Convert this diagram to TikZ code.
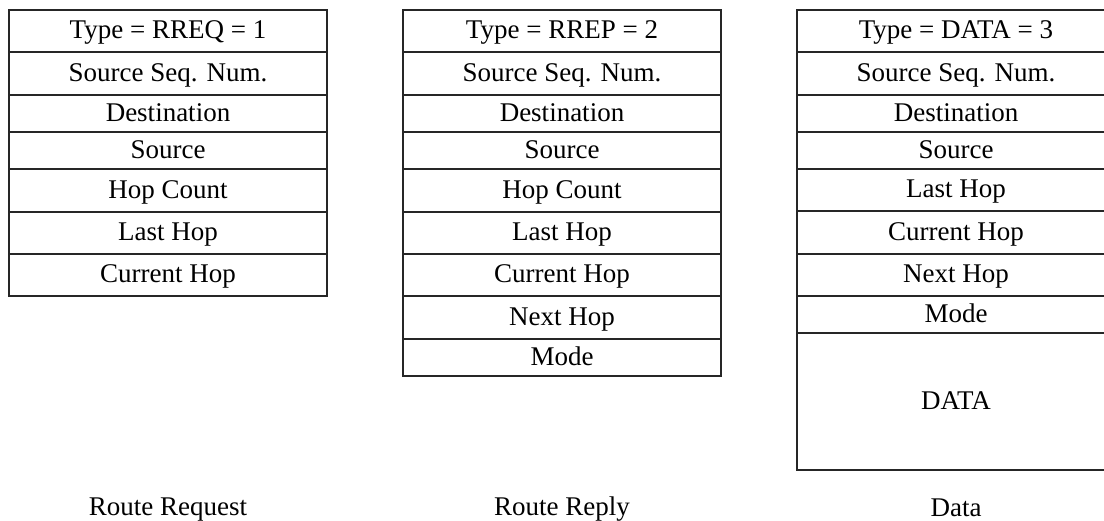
\documentclass[tikz,border=0pt]{standalone}
\usepackage{fontspec}
\setmainfont{Liberation Serif}
\begin{document}
\begin{tikzpicture}[x=1pt,y=-1pt,
  field/.style={draw=black!85,line width=1.3pt},
  lbl/.style={anchor=base,inner sep=0pt,font=\fontsize{27}{32}\selectfont},
  captionlbl/.style={anchor=base,inner sep=0pt,font=\fontsize{27}{32}\selectfont}]
\useasboundingbox (0,0) rectangle (1104,520);
\begin{scope}
\clip (0,0) rectangle (1104,520);
% Box 1: Route Request
\def\xa{9}\def\xb{327}
\foreach \ya/\yb/\t [count=\i] in {10/52/{Type = RREQ = 1},52/95/{Source Seq. Num.},95/132/Destination,132/169/Source,169/212/Hop Count,212/254/Last Hop,254/296/Current Hop}{
  \draw[field] (\xa,\ya) rectangle (\xb,\yb);
  \node[lbl] (r\i) at ({(\xa+\xb)/2},{(\ya+\yb)/2+7.5}) {\t};
}
% Box 2: Route Reply
\def\xa{403}\def\xb{721}
\foreach \ya/\yb/\t [count=\i] in {10/52/{Type = RREP = 2},52/95/{Source Seq. Num.},95/132/Destination,132/169/Source,169/212/Hop Count,212/254/Last Hop,254/296/Current Hop,296/339/Next Hop,339/376/Mode}{
  \draw[field] (\xa,\ya) rectangle (\xb,\yb);
  \node[lbl] (p\i) at ({(\xa+\xb)/2},{(\ya+\yb)/2+7.5}) {\t};
}
% Box 3: Data
\def\xa{797}\def\xb{1115}
\foreach \ya/\yb/\t [count=\i] in {10/52/{Type = DATA = 3},52/95/{Source Seq. Num.},95/132/Destination,132/169/Source,169/211/Last Hop,211/254/Current Hop,254/296/Next Hop,296/333/Mode,333/470/DATA}{
  \draw[field] (\xa,\ya) rectangle (\xb,\yb);
  \node[lbl] (d\i) at ({(\xa+\xb)/2},{(\ya+\yb)/2+7.5}) {\t};
}
\end{scope}
\node[captionlbl] (c1) at (168,515) {Route Request};
\node[captionlbl] (c2) at (562,515) {Route Reply};
\node[captionlbl] (c3) at (956,516) {Data};
\end{tikzpicture}
\end{document}
